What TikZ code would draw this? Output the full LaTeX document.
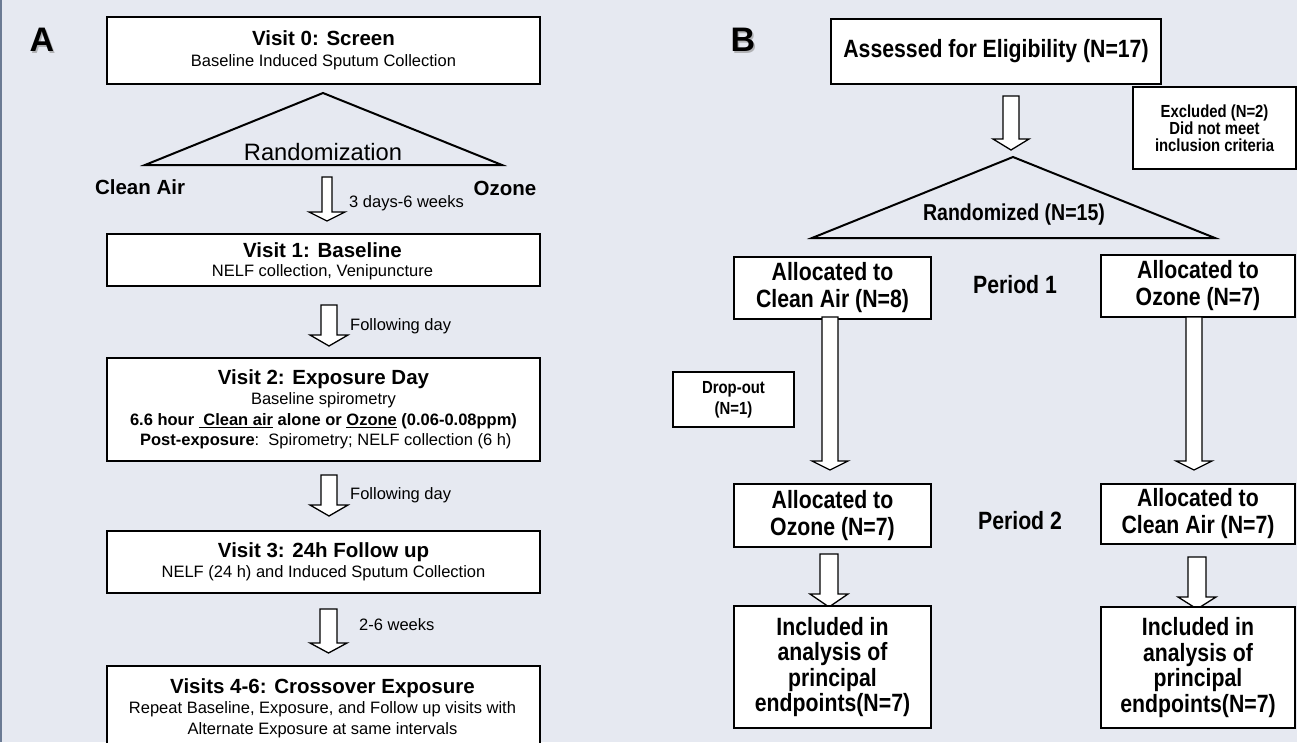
\documentclass[tikz,border=0pt]{standalone}
\usepackage{fontspec}
\setmainfont{Liberation Sans}
\newfontfamily\nar[FakeStretch=0.85]{Liberation Sans}
\definecolor{bgcol}{HTML}{E6E9F1}
\definecolor{edgecol}{HTML}{6B7B94}
\newcommand\hd{\fontsize{20.5}{20.5}\selectfont\bfseries}
\newcommand\bd{\fontsize{16.5}{20.5}\selectfont\mdseries}
\newcommand\bdb{\fontsize{16.5}{20.5}\selectfont\bfseries}
\newcommand\nb{\nar\bfseries\fontsize{25}{27}\selectfont}
\newcommand\nbi{\nar\bfseries\fontsize{25}{25.5}\selectfont}
\newcommand\ns{\nar\bfseries\fontsize{17.5}{17}\selectfont}
\tikzset{
  box/.style={draw=black, line width=2pt, fill=white, inner sep=0pt, anchor=north west, align=center},
  abox/.style={box, font=\bd},
  bbox/.style={box, font=\nb},
  blk/.style={draw=black, line width=1.3pt, fill=white, line join=miter},
  tri/.style={draw=black, line width=2pt, line join=miter},
  lbl/.style={inner sep=0pt, anchor=west},
  panel/.style={inner sep=0pt, font=\fontsize{34}{34}\selectfont\bfseries},
}
\newcommand\blockarrow[6]{%
  \draw[blk] ({#1-#5},#2) -- ({#1+#5},#2) -- ({#1+#5},#3) -- ({#1+#6},#3) -- (#1,#4) -- ({#1-#6},#3) -- ({#1-#5},#3) -- cycle;}
\begin{document}
\begin{tikzpicture}[x=1pt,y=-1pt]
\useasboundingbox (0,0) rectangle (1297,742);
\clip (0,0) rectangle (1297,742);
\fill[bgcol] (0,0) rectangle (1297,742);
\fill[edgecol] (0,0) rectangle (2,742);

% ---------- Panel A ----------
\node[panel, text=black!45, opacity=0.6] at (43.5,41.5) {A};
\node[panel] (labA) at (42,40) {A};

\node[abox, minimum width=433pt, minimum height=67pt] (v0) at (106,16)
  {\hd Visit 0: Screen\\ \bd Baseline Induced Sputum Collection};

\draw[tri] (323,93) -- (502,165) -- (145,165) -- cycle;
\node[inner sep=0pt, font=\fontsize{23.7}{26}\selectfont] (rand) at (323,152) {Randomization};
\node[inner sep=0pt, font=\hd] (ca) at (140,187) {Clean Air};
\node[inner sep=0pt, font=\hd] (oz) at (505,188) {Ozone};

\blockarrow{327}{177}{212}{221}{5}{18}
\node[lbl, font=\bd] (l1) at (349,203) {3 days-6 weeks};

\node[abox, minimum width=433pt, minimum height=52pt] (v1) at (106,233) {};
\node[inner sep=0pt, align=center, anchor=north, font=\bd] (v1t) at (322.5,242)
  {\hd Visit 1: Baseline\\[-1.5pt] \bd NELF collection, Venipuncture};

\blockarrow{329}{305}{335}{346}{8}{19}
\node[lbl, font=\bd] (l2) at (350,326) {Following day};

\node[abox, minimum width=433pt, minimum height=103pt] (v2) at (106,357)
  {\hd Visit 2: Exposure Day\\
   \bd Baseline spirometry\\
   \bdb 6.6 hour \underline{\ Clean air} alone or \underline{Ozone} (0.06-0.08ppm)\\
   \bd \ \textbf{Post-exposure}:\ \ Spirometry; NELF collection (6 h)};

\blockarrow{329}{475}{505}{516}{8}{19}
\node[lbl, font=\bd] (l3) at (350,495) {Following day};

\node[abox, minimum width=433pt, minimum height=62pt] (v3) at (106,530)
  {\hd Visit 3: 24h Follow up\\ \bd NELF (24 h) and Induced Sputum Collection};

\blockarrow{328.5}{609}{643}{653}{8.5}{18.5}
\node[lbl, font=\bd] (l4) at (359,625) {2-6 weeks};

\node[abox, minimum width=433pt, minimum height=100pt] (v4) at (106,665) {};
\node[inner sep=0pt, align=center, anchor=north, font=\bd] (v4t) at (322.5,678)
  {\hd Visits 4-6: Crossover Exposure\\
   \bd Repeat Baseline, Exposure, and Follow up visits with\\
   \bd Alternate Exposure at same intervals};

% ---------- Panel B ----------
\node[panel, text=black!45, opacity=0.6] at (744.5,41.5) {B};
\node[panel] (labB) at (743,40) {B};

\node[bbox, minimum width=330pt, minimum height=65pt] (ass) at (830,18)
  {Assessed for Eligibility (N=17)};

\blockarrow{1011}{96}{139}{150}{8}{18}

\node[box, font=\ns, minimum width=163pt, minimum height=82pt] (exc) at (1132,86)
  {Excluded (N=2)\\ Did not meet\\ inclusion criteria};

\draw[tri] (1013,157) -- (1215,238) -- (812,238) -- cycle;
\node[inner sep=0pt, font=\nar\bfseries\fontsize{23}{25}\selectfont] (rnd) at (1014,215) {Randomized (N=15)};

\node[bbox, minimum width=197pt, minimum height=62pt] (a1l) at (733,256)
  {Allocated to\\ Clean Air (N=8)};
\node[inner sep=0pt, font=\nb] (p1) at (1015,285) {Period 1};
\node[bbox, minimum width=194pt, minimum height=62pt] (a1r) at (1100,254)
  {Allocated to\\ Ozone (N=7)};

\blockarrow{830}{317}{461}{470}{8}{18}
\blockarrow{1194}{317}{461}{470}{8}{18}

\node[box, font=\ns, minimum width=121pt, minimum height=55pt] (drop) at (672,371)
  {Drop-out\\[4pt] (N=1)};

\node[bbox, minimum width=197pt, minimum height=63pt] (a2l) at (733,483)
  {Allocated to\\ Ozone (N=7)};
\node[inner sep=0pt, font=\nb] (p2) at (1020,521) {Period 2};
\node[bbox, minimum width=194pt, minimum height=60pt] (a2r) at (1100,483)
  {Allocated to\\ Clean Air (N=7)};

\blockarrow{829}{554}{594}{607}{9}{19}
\blockarrow{1197}{557}{597}{609}{9}{19}

\node[box, font=\nbi, minimum width=197pt, minimum height=122pt] (incl) at (733,605)
  {Included in\\ analysis of\\ principal\\ endpoints(N=7)};
\node[box, font=\nbi, minimum width=194pt, minimum height=121pt] (incr) at (1100,606)
  {Included in\\ analysis of\\ principal\\ endpoints(N=7)};
\end{tikzpicture}
\end{document}
